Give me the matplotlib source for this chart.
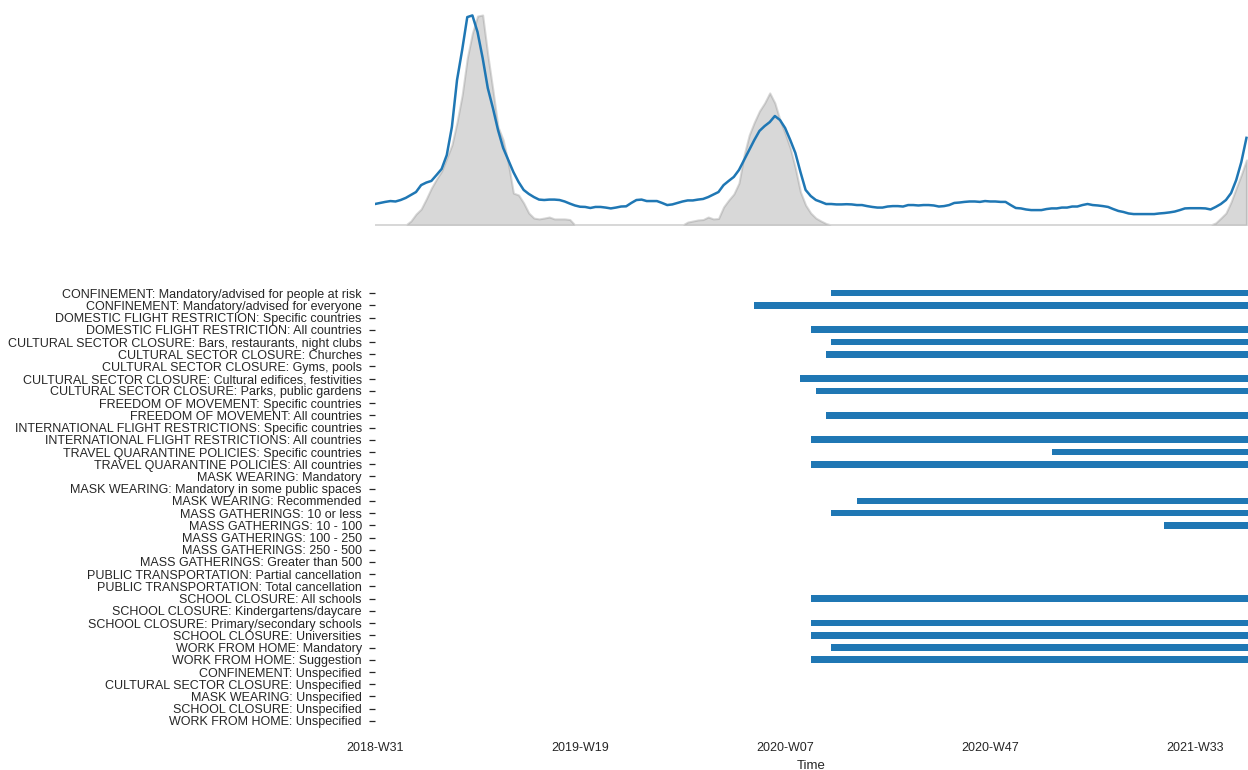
import numpy as np
import matplotlib
matplotlib.use("Agg")
import matplotlib.pyplot as plt

plt.rcParams["font.family"] = ["Liberation Sans", "DejaVu Sans"]

# Weekly tick labels (every 40 weeks of the series)
tick_weeks = ["2018-W31", "2019-W19", "2020-W07", "2020-W47", "2021-W33"]
tick_step = 40

# Observed incidence (grey area), relative scale
incidence = [
    0, 0, 0, 0, 0, 0, 0, 1.9, 5.2, 7.6,
    12.4, 17.6, 21.9, 25.7, 31.9, 38.1, 49.0, 61.9, 79.5, 91.4,
    99.5, 100.0, 81.0, 64.3, 46.7, 40.5, 29.5, 15.2, 14.3, 10.5,
    5.7, 3.3, 2.9, 3.3, 3.8, 2.9, 2.9, 2.9, 2.6, 0,
    0, 0, 0, 0, 0, 0, 0, 0, 0, 0,
    0, 0, 0, 0, 0, 0, 0, 0, 0, 0,
    0, 1.4, 1.9, 2.4, 2.6, 3.8, 2.9, 3.1, 8.6, 11.9,
    14.8, 20.0, 33.3, 42.9, 49.0, 54.3, 58.1, 62.9, 58.1, 50.0,
    43.8, 36.7, 27.1, 15.7, 9.5, 5.7, 3.3, 1.9, 0.7, 0,
    0, 0, 0, 0, 0, 0, 0, 0, 0, 0,
    0, 0, 0, 0, 0, 0, 0, 0, 0, 0,
    0, 0, 0, 0, 0, 0, 0, 0, 0, 0,
    0, 0, 0, 0, 0, 0, 0, 0, 0, 0,
    0, 0, 0, 0, 0, 0, 0, 0, 0, 0,
    0, 0, 0, 0, 0, 0, 0, 0, 0, 0,
    0, 0, 0, 0, 0, 0, 0, 0, 0, 0,
    0, 0, 0, 0, 1.0, 3.3, 5.7, 11.0, 17.6, 24.0,
    31.0,
]

# Model estimate (blue line), same relative scale
estimate = [
    10.0, 10.5, 11.0, 11.4, 11.2, 11.9, 12.9, 14.3, 15.7, 19.0,
    20.2, 21.0, 23.8, 26.7, 33.3, 46.7, 69.0, 83.3, 99.0, 99.8,
    91.9, 79.5, 65.2, 55.7, 45.2, 36.7, 31.0, 25.2, 20.5, 16.7,
    14.8, 13.3, 12.1, 11.9, 12.1, 12.1, 11.9, 11.2, 10.2, 9.3,
    8.7, 8.6, 8.1, 8.6, 8.6, 8.3, 7.9, 8.3, 8.8, 8.9,
    10.5, 11.9, 12.1, 11.4, 11.4, 11.4, 10.5, 9.5, 9.8, 10.5,
    11.2, 11.7, 11.7, 12.1, 12.4, 13.3, 14.5, 15.7, 19.0, 21.0,
    22.9, 26.2, 31.0, 35.7, 40.5, 44.8, 47.1, 49.0, 51.9, 50.0,
    46.2, 40.5, 34.3, 25.2, 16.7, 13.8, 11.9, 11.0, 10.0, 10.0,
    9.8, 9.8, 9.9, 9.8, 9.5, 9.5, 9.0, 8.6, 8.3, 8.3,
    8.8, 9.0, 9.0, 8.8, 9.5, 9.5, 9.3, 9.5, 9.5, 9.3,
    8.8, 9.0, 9.5, 10.5, 10.7, 11.0, 11.2, 11.2, 11.0, 11.4,
    11.2, 11.2, 11.0, 11.0, 9.5, 8.1, 7.9, 7.4, 7.1, 7.1,
    7.1, 7.6, 7.9, 7.9, 8.3, 8.3, 8.8, 8.8, 9.5, 10.0,
    9.5, 9.3, 9.0, 8.6, 7.6, 6.7, 6.2, 5.5, 5.2, 5.2,
    5.2, 5.2, 5.2, 5.5, 5.7, 6.0, 6.4, 7.1, 7.9, 8.0,
    8.0, 8.0, 7.9, 7.4, 8.6, 10.0, 11.9, 15.2, 21.4, 30.0,
    41.5,
]

# Government measures and the week index at which each one starts (None = never applied)
measures = [
    "CONFINEMENT: Mandatory/advised for people at risk",
    "CONFINEMENT: Mandatory/advised for everyone",
    "DOMESTIC FLIGHT RESTRICTION: Specific countries",
    "DOMESTIC FLIGHT RESTRICTION: All countries",
    "CULTURAL SECTOR CLOSURE: Bars, restaurants, night clubs",
    "CULTURAL SECTOR CLOSURE: Churches",
    "CULTURAL SECTOR CLOSURE: Gyms, pools",
    "CULTURAL SECTOR CLOSURE: Cultural edifices, festivities",
    "CULTURAL SECTOR CLOSURE: Parks, public gardens",
    "FREEDOM OF MOVEMENT: Specific countries",
    "FREEDOM OF MOVEMENT: All countries",
    "INTERNATIONAL FLIGHT RESTRICTIONS: Specific countries",
    "INTERNATIONAL FLIGHT RESTRICTIONS: All countries",
    "TRAVEL QUARANTINE POLICIES: Specific countries",
    "TRAVEL QUARANTINE POLICIES: All countries",
    "MASK WEARING: Mandatory",
    "MASK WEARING: Mandatory in some public spaces",
    "MASK WEARING: Recommended",
    "MASS GATHERINGS: 10 or less",
    "MASS GATHERINGS: 10 - 100",
    "MASS GATHERINGS: 100 - 250",
    "MASS GATHERINGS: 250 - 500",
    "MASS GATHERINGS: Greater than 500",
    "PUBLIC TRANSPORTATION: Partial cancellation",
    "PUBLIC TRANSPORTATION: Total cancellation",
    "SCHOOL CLOSURE: All schools",
    "SCHOOL CLOSURE: Kindergartens/daycare",
    "SCHOOL CLOSURE: Primary/secondary schools",
    "SCHOOL CLOSURE: Universities",
    "WORK FROM HOME: Mandatory",
    "WORK FROM HOME: Suggestion",
    "CONFINEMENT: Unspecified",
    "CULTURAL SECTOR CLOSURE: Unspecified",
    "MASK WEARING: Unspecified",
    "SCHOOL CLOSURE: Unspecified",
    "WORK FROM HOME: Unspecified",
]
measure_start = [
    89, 74, None, 85, 89, 88, None, 83, 86, None,
    88, None, 85, 132, 85, None, None, 94, 89, 154,
    None, None, None, None, None, 85, None, 85, 85, 89,
    85, None, None, None, None, None,
]

W, H = 1248, 770
fig = plt.figure(figsize=(W / 100, H / 100), dpi=100)
fig.patch.set_facecolor("white")

n = len(estimate)
x = np.arange(n)
x_right = 170.3
text_color = "0.15"
blue = "#1f77b4"

# Epidemic curve
ax_top = fig.add_axes([375 / W, (H - 225) / H, (W - 375) / W, 215 / H])
ax_top.fill_between(x, 0, incidence, color="grey", alpha=0.3, linewidth=1.5)
ax_top.plot(x, estimate, color=blue, linewidth=1.8)
ax_top.set_xlim(0, x_right)
ax_top.set_ylim(0, 100 * 215 / 210)
ax_top.axis("off")

# Measures timeline
ax = fig.add_axes([375 / W, (H - 727) / H, (W - 375) / W, 440 / H])
for row, start in enumerate(measure_start):
    if start is not None:
        ax.barh(row, n - start, left=start, height=0.55, color=blue)
ax.set_ylim(len(measures) - 0.5, -0.5)
ax.set_xlim(0, x_right)
ax.set_yticks(range(len(measures)))
ax.set_yticklabels(measures, fontsize=9, color=text_color)
ax.tick_params(axis="y", length=4, width=0.9, color=text_color, pad=5.5)
ticks = [i * tick_step for i in range(len(tick_weeks))]
ax.set_xticks(ticks)
ax.set_xticklabels(tick_weeks, fontsize=9, color=text_color)
ax.tick_params(axis="x", length=0, pad=11)
ax.set_xlabel("Time", fontsize=9.5, color=text_color, labelpad=4)
for s in ax.spines.values():
    s.set_visible(False)

fig.savefig("out.png", dpi=100, facecolor="white")
